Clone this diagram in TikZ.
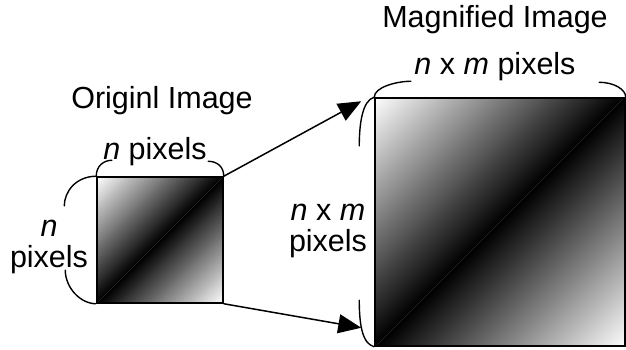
\documentclass[tikz,border=0pt]{standalone}
\usepackage{fontspec}
\setmainfont{Liberation Sans}
\usetikzlibrary{arrows.meta, positioning, calc}

\begin{document}
\begin{tikzpicture}[x=1pt, y=1pt, font=\fontsize{30.5}{31}\selectfont,
  sqline/.style={line width=1.5pt},
  bracket/.style={line width=1.4pt},
  zoomarrow/.style={line width=1.5pt, -{Triangle[length=23pt, width=19pt]}},
  gradsq/.style={draw, sqline, inner sep=0pt, path picture={
    \begin{scope}[transform canvas={rotate around={45:(path picture bounding box.center)}}]
      \shade[top color=white, bottom color=black]
        ($(path picture bounding box.center)+(-#1,0)$) rectangle ($(path picture bounding box.center)+(#1,#1)$);
      \shade[top color=black, bottom color=white]
        ($(path picture bounding box.center)+(-#1,-#1)$) rectangle ($(path picture bounding box.center)+(#1,0)$);
    \end{scope}}}]
\useasboundingbox (0,0) rectangle (626,349);

% the two pictures
\node[gradsq=89, minimum size=126] (orig) at (160,109) {};
\node[gradsq=177, minimum width=250, minimum height=248] (mag) at (500,127) {};

% titles and sizes
\node[anchor=base] (origtitle) at (162,241) {Originl Image};
\node[anchor=base] (magtitle) at (495,321) {Magnified Image};
\node[anchor=base] (origtop) at (155,190) {\textit{n} pixels};
\node[anchor=base] (magtop) at (495,275) {\textit{n} x \textit{m} pixels};
\node[align=center] (origside) at (49,102) {\textit{n}\\pixels};
\node[align=center] (magside) at (328,118) {\textit{n} x \textit{m}\\pixels};

% brackets, middle parts hidden by the labels
\draw[bracket] (orig.north west) .. controls +(0,10) and +(-9,0) .. ($(orig.north west)+(16,16)$)
  ($(orig.north east)+(-16,15)$) .. controls +(10,0) and +(0,9) .. (orig.north east);
\draw[bracket] (orig.north west) .. controls +(-20,0) and +(0,15) .. ($(orig.north west)+(-32,-30)$)
  ($(orig.south west)+(-31,34)$) .. controls +(0,-18) and +(-16,0) .. (orig.south west);
\draw[bracket] (mag.north west) .. controls +(0,10) and +(-15,0) .. ($(mag.north west)+(37,16)$)
  ($(mag.north east)+(-27,15)$) .. controls +(15,0) and +(0,8) .. (mag.north east);
\draw[bracket] (mag.north west) .. controls +(-12,-3) and +(0,22) .. ($(mag.north west)+(-15,-49)$)
  ($(mag.south west)+(-15,47)$) .. controls +(0,-25) and +(-12,3) .. (mag.south west);

% magnification arrows
\coordinate (toptip) at ($(mag.north west)+(-13,-4)$);
\coordinate (bottip) at ($(mag.south west)+(-13,19)$);
\draw[zoomarrow] (orig.north east) -- (toptip);
\draw[zoomarrow] (orig.south east) -- (bottip);
\end{tikzpicture}
\end{document}
